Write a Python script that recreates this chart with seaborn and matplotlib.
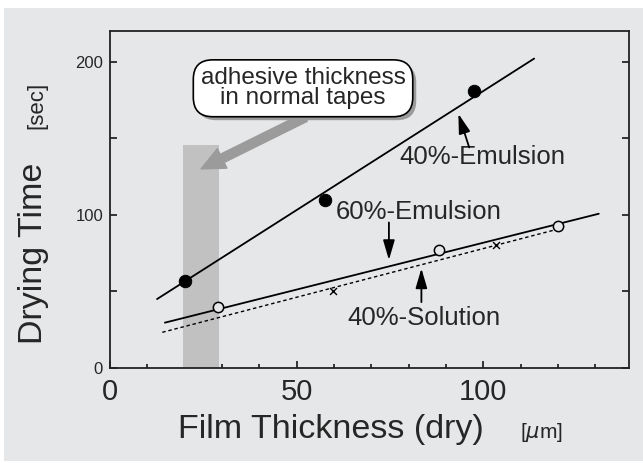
import numpy as np
import pandas as pd
import matplotlib
matplotlib.use("Agg")
import matplotlib.pyplot as plt
import seaborn as sns
from matplotlib.patches import Rectangle, FancyArrowPatch
import matplotlib.patheffects as pe

# ---- data ----
emul40_x = [20, 57.5, 97.5]
emul40_y = [57, 110, 181]
emul60_x = [29, 88, 120]
emul60_y = [40, 77, 92.6]
sol40_x = [59.6, 103.4]
sol40_y = [50.2, 80.2]

fit_emul40_x = [12.6, 113.6]
fit_emul40_y = [45, 202]
fit_emul60_x = [14.7, 130.9]
fit_emul60_y = [29.6, 100.7]
fit_sol40_x = [14, 118.9]
fit_sol40_y = [23.3, 90]

band_x = [19.6, 29.1]
band_top = 145.5

x_ticks = [0, 50, 100]
y_ticks = [0, 100, 200]

sns.set_style("ticks")
plt.rcParams['font.family'] = ['Liberation Sans', 'DejaVu Sans']

BG = '#e6e7e9'
fig = plt.figure(figsize=(6.43, 4.63), dpi=100, facecolor='white')
fig.patches.append(Rectangle((4/643, 2/463), 1 - 4/643, 1 - 10/463,
                             transform=fig.transFigure, facecolor=BG,
                             edgecolor='none', zorder=-10))
ax = fig.add_axes([110/643, (463-368)/463, (629-110)/643, (368-31)/463])
ax.set_facecolor(BG)

# band
ax.add_patch(Rectangle((band_x[0], 0), band_x[1]-band_x[0], band_top,
                       facecolor='#c1c1c1', edgecolor='none', zorder=1))

# fit lines
sns.lineplot(x=fit_emul40_x, y=fit_emul40_y, ax=ax, color='black', lw=1.3, zorder=3)
sns.lineplot(x=fit_emul60_x, y=fit_emul60_y, ax=ax, color='black', lw=1.3, zorder=3)
sns.lineplot(x=fit_sol40_x, y=fit_sol40_y, ax=ax, color='black', lw=1.0,
             linestyle=(0, (2.5, 2)), zorder=3)

# points
sns.scatterplot(x=emul40_x, y=emul40_y, ax=ax, color='black', s=80,
                edgecolor='black', zorder=4)
sns.scatterplot(x=emul60_x, y=emul60_y, ax=ax, facecolor=BG, s=55,
                edgecolor='black', linewidth=1.1, zorder=4)
sns.scatterplot(x=sol40_x, y=sol40_y, ax=ax, marker='x', color='black', s=25,
                linewidth=1.0, zorder=4)

ax.set_xlim(0, 139)
ax.set_ylim(0, 220)
ax.set_xticks(x_ticks)
ax.set_xticks(np.arange(10, 139, 10), minor=True)
ax.set_yticks(y_ticks)
ax.set_yticks([50, 150], minor=True)
ax.set_xticklabels([str(v) for v in x_ticks], fontsize=21)
ax.set_yticklabels([str(v) for v in y_ticks], fontsize=12)
ax.tick_params(axis='x', which='major', direction='in', length=5, width=1.3, pad=7,
               top=False)
ax.tick_params(axis='x', which='minor', direction='in', length=3, width=1.3, top=False)
ax.tick_params(axis='y', which='both', direction='in', length=5, width=1.3, pad=5,
               right=True)
for s in ax.spines.values():
    s.set_linewidth(1.3)
    s.set_color('#222222')
ax.set_xlabel('')
ax.set_ylabel('')

# labels
ax.text(99.7, 137.6, '40%-Emulsion', fontsize=18.5, ha='center', va='center')
ax.text(82.6, 101.8, '60%-Emulsion', fontsize=18.5, ha='center', va='center')
ax.text(84.2, 32.6, '40%-Solution', fontsize=18.5, ha='center', va='center')

ap = dict(arrowstyle='-|>,head_width=0.22,head_length=0.75', lw=1.3, color='black',
          mutation_scale=16, shrinkA=0, shrinkB=0)
ax.annotate('', xy=(93.3, 166), xytext=(96.2, 144), arrowprops=ap)
ax.annotate('', xy=(74.7, 70.5), xytext=(74.7, 95), arrowprops=ap)
ax.annotate('', xy=(83.4, 65), xytext=(83.4, 43), arrowprops=ap)

# grey arrow
ax.add_patch(FancyArrowPatch((52.3, 163.7), (24.4, 130),
                             arrowstyle='simple,head_width=1.2,head_length=1.3,tail_width=0.5',
                             mutation_scale=13, color='#9b9b9b', zorder=2,
                             shrinkA=0, shrinkB=0))

# callout box
t = ax.text(51.7, 182.6, 'adhesive thickness\nin normal tapes', fontsize=17.5,
            ha='center', va='center', linespacing=0.9, zorder=6,
            bbox=dict(boxstyle='round,pad=0.3,rounding_size=0.8', fc='white',
                      ec='black', lw=1.2))
t.get_bbox_patch().set_path_effects([
    pe.SimplePatchShadow(offset=(2.5, -2.5), shadow_rgbFace='#9a9a9a', alpha=1.0),
    pe.Normal()])

# axis titles
fig.text(42/643, 1 - 253/463, 'Drying Time', fontsize=24.5, rotation=90,
         ha='center', va='baseline', rotation_mode='anchor')
fig.text(42/643, 1 - 105/463, '[sec]', fontsize=16, rotation=90,
         ha='center', va='baseline', rotation_mode='anchor')
fig.text(331/643, 1 - 438/463, 'Film Thickness (dry)', fontsize=24.5,
         ha='center', va='baseline')
fig.text(541/643, 1 - 438/463, '[$\\mu$m]', fontsize=15,
         ha='center', va='baseline')

fig.savefig('out.png', dpi=100, facecolor='white')
